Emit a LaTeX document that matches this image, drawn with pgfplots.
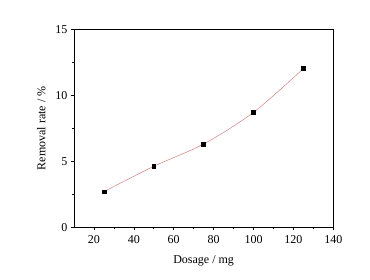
\documentclass[border=0pt]{standalone}
\usepackage{pgfplots}
\pgfplotsset{compat=1.18}
\usepackage{fontspec}
\setmainfont{Liberation Serif}
\definecolor{linered}{RGB}{215,130,130}
\begin{document}
\begin{tikzpicture}
\path[use as bounding box, fill=white] (-74pt,-51.7pt) rectangle (296pt,227.3pt);
\begin{axis}[
  at={(0,0)}, anchor=south west,
  scale only axis, width=259.3pt, height=198pt,
  xmin=10, xmax=140, ymin=0, ymax=15,
  xtick={20,40,...,140}, ytick={0,5,10,15},
  minor x tick num=1, minor y tick num=1,
  tick pos=left, tick align=outside,
  major tick length=3pt, minor tick length=2pt,
  every tick/.style={black, line width=0.6pt},
  axis line style={line width=0.7pt},
  tick label style={font=\fontsize{12}{14}\selectfont},
  label style={font=\fontsize{12}{14}\selectfont},
  /pgf/number format/assume math mode=true,
  xticklabel style={yshift=-2pt},
  xlabel={Dosage / mg}, ylabel={Removal rate / \%},
  xlabel style={yshift=-5pt},
  ylabel style={yshift=3pt},
]
\addplot[linered, line width=0.5pt, smooth, tension=0.5, mark=square*, mark size=1.9pt,
  mark options={black, solid}] coordinates {
  (25,2.70) (50,4.62) (75,6.31) (100,8.71) (125,12.02)};
\end{axis}
\end{tikzpicture}
\end{document}
